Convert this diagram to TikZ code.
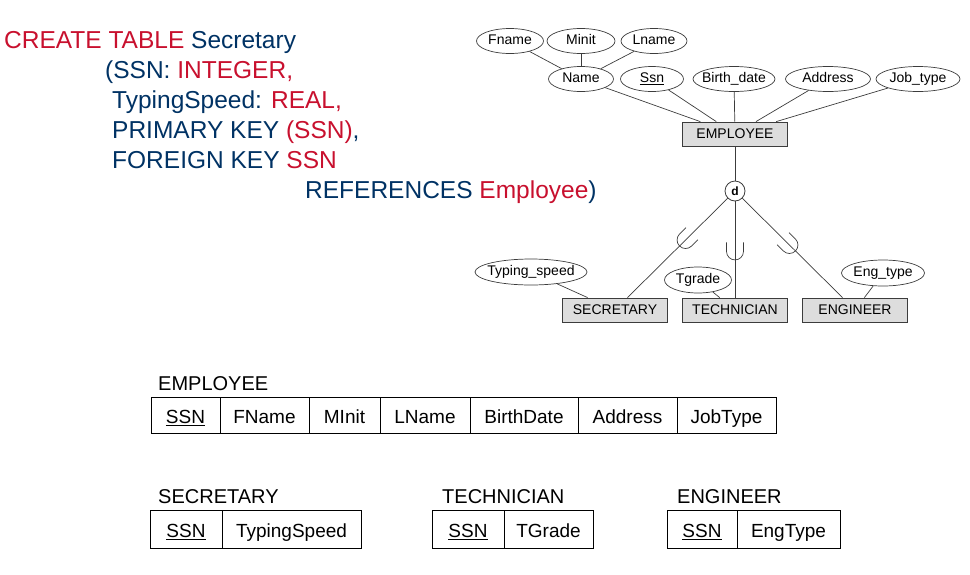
\documentclass[tikz,border=0pt]{standalone}
\usepackage{fontspec}
\setmainfont{Liberation Sans}
\usetikzlibrary{positioning,shapes.geometric}
\definecolor{sqlred}{RGB}{200,16,46}
\definecolor{sqlblue}{RGB}{0,50,100}
\definecolor{erline}{RGB}{60,60,60}
\definecolor{entfill}{RGB}{221,221,221}
\tikzset{
  cup/.pic={\draw[erline,line width=0.7pt] (-9pt,8.5pt) -- (0pt,8.5pt) arc[start angle=90,end angle=-90,radius=8.5pt] -- (-9pt,-8.5pt);}
}
\begin{document}
\begin{tikzpicture}[x=1pt,y=-1pt,
  sql/.style={inner sep=0pt,text=sqlblue,font=\fontsize{24.5}{28}\selectfont},
  attr/.style={ellipse,draw=erline,line width=0.7pt,inner xsep=-4pt,inner ysep=0pt,text height=10.5pt,text depth=3pt,minimum height=25pt,font=\fontsize{14}{16}\selectfont},
  ent/.style={rectangle,draw=erline,line width=0.8pt,fill=entfill,minimum width=105pt,minimum height=24pt,inner sep=0pt,text height=11.5pt,text depth=2pt,font=\fontsize{14}{16}\selectfont},
  erl/.style={draw=erline,line width=0.7pt},
  cell/.style={draw,line width=0.9pt,outer sep=0pt,inner sep=0pt,text height=19pt,text depth=2.5pt,minimum height=36pt,font=\fontsize{19}{22}\selectfont},
  tlabel/.style={inner sep=0pt,anchor=base west,font=\fontsize{20}{24}\selectfont}]
\useasboundingbox (0,0) rectangle (970,574);
\node[sql,anchor=base west] (sql1) at (4,48) {\textcolor{sqlred}{CREATE TABLE} Secretary};
\node[sql,anchor=base west] (sql2) at (105,78) {(SSN: \textcolor{sqlred}{INTEGER,}};
\node[sql,anchor=base west] (sql3) at (112,108) {TypingSpeed: \textcolor{sqlred}{REAL,}};
\node[sql,anchor=base west] (sql4) at (112,138) {PRIMARY KEY \textcolor{sqlred}{(SSN)},};
\node[sql,anchor=base west] (sql5) at (112,168) {FOREIGN KEY \textcolor{sqlred}{SSN}};
\node[sql,anchor=base west] (sql6) at (305,198) {REFERENCES \textcolor{sqlred}{Employee})};
\node[attr,minimum width=67pt] (fname) at (510,41) {Fname};
\node[attr,minimum width=68pt] (minit) at (581,41) {Minit};
\node[attr,minimum width=66pt] (lname) at (654,41) {Lname};
\node[attr,minimum width=65pt] (name) at (581,79) {Name};
\node[attr,minimum width=63pt] (ssn) at (652,79) {\underline{Ssn}};
\node[attr,minimum width=82pt] (bdate) at (734,79) {Birth\_date};
\node[attr,minimum width=85pt] (addr) at (828,79) {Address};
\node[attr,minimum width=84pt] (jtype) at (918,79) {Job\_type};
\node[ent] (emp) at (735,134) {EMPLOYEE};
\node[circle,draw=erline,line width=0.8pt,fill=white,minimum size=20pt,inner sep=0pt,font=\bfseries\fontsize{12}{14}\selectfont] (disj) at (735,191) {d};
\node[ent] (sec) at (615,310) {SECRETARY};
\node[ent] (tech) at (735,310) {TECHNICIAN};
\node[ent] (eng) at (855,310) {ENGINEER};
\node[attr,minimum width=108pt,minimum height=26pt] (tspeed) at (531,272) {Typing\_speed};
\node[attr,minimum width=67pt,minimum height=26pt] (tgrade) at (698,280) {Tgrade};
\node[attr,minimum width=83pt,minimum height=26pt] (etype) at (883,273) {Eng\_type};
\draw[erl] (fname) -- (name);
\draw[erl] (minit) -- (name);
\draw[erl] (lname) -- (name);
\draw[erl] (name) -- (emp);
\draw[erl] (ssn) -- (emp);
\draw[erl] (bdate) -- (emp);
\draw[erl] (addr) -- (emp);
\draw[erl] (jtype) -- (emp);
\draw[erl] (emp) -- (disj);
\draw[erl] (disj) -- (sec) pic[pos=0.42,sloped,allow upside down] {cup};
\draw[erl] (disj) -- (tech) pic[pos=0.52,sloped,allow upside down] {cup};
\draw[erl] (disj) -- (eng) pic[pos=0.47,sloped,allow upside down] {cup};
\draw[erl] (tspeed) -- (sec);
\draw[erl] (tgrade) -- (tech);
\draw[erl] (etype) -- (eng);
\node[tlabel] (lblemp) at (158,390) {EMPLOYEE};
\node[cell,minimum width=69pt,anchor=west] (essn) at (151,415) {\underline{SSN}};
\node[cell,minimum width=89pt,right=0pt of essn] (efname) {FName};
\node[cell,minimum width=71pt,right=0pt of efname] (eminit) {MInit};
\node[cell,minimum width=90pt,right=0pt of eminit] (elname) {LName};
\node[cell,minimum width=108pt,right=0pt of elname] (ebdate) {BirthDate};
\node[cell,minimum width=99pt,right=0pt of ebdate] (eaddr) {Address};
\node[cell,minimum width=99pt,right=0pt of eaddr] (ejtype) {JobType};
\node[tlabel] (lblsec) at (158,503) {SECRETARY};
\node[cell,minimum width=72pt,minimum height=38pt,anchor=west] (sssn) at (150,529) {\underline{SSN}};
\node[cell,minimum width=139pt,minimum height=38pt,right=0pt of sssn] (stspeed) {TypingSpeed};
\node[tlabel] (lbltech) at (442,503) {TECHNICIAN};
\node[cell,minimum width=72pt,minimum height=38pt,anchor=west] (tssn) at (432,529) {\underline{SSN}};
\node[cell,minimum width=89pt,minimum height=38pt,right=0pt of tssn] (ttgrade) {TGrade};
\node[tlabel] (lbleng) at (677,503) {ENGINEER};
\node[cell,minimum width=70pt,minimum height=38pt,anchor=west] (gssn) at (667,529) {\underline{SSN}};
\node[cell,minimum width=103pt,minimum height=38pt,right=0pt of gssn] (getype) {EngType};
\end{tikzpicture}
\end{document}
